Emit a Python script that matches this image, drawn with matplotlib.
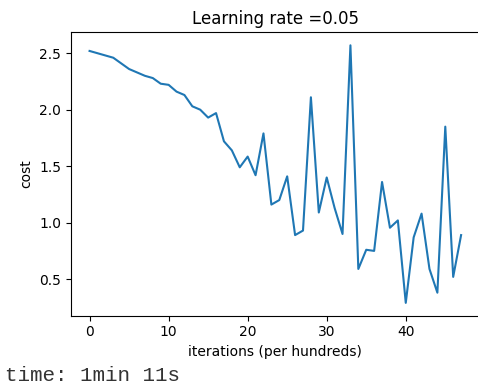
import matplotlib
matplotlib.use('Agg')
import matplotlib.pyplot as plt

# cost recorded every hundred iterations
iterations = list(range(48))
costs = [2.52, 2.50, 2.48, 2.46, 2.41, 2.36, 2.33, 2.30, 2.28, 2.23,
         2.22, 2.16, 2.13, 2.03, 2.00, 1.93, 1.97, 1.72, 1.64, 1.49,
         1.585, 1.42, 1.79, 1.16, 1.20, 1.41, 0.89, 0.93, 2.11, 1.09,
         1.40, 1.13, 0.90, 2.57, 0.59, 0.76, 0.75, 1.36, 0.955, 1.02,
         0.29, 0.87, 1.08, 0.59, 0.38, 1.85, 0.52, 0.89]

title = "Learning rate =0.05"
timing = "time: 1min 11s"

fig = plt.figure(figsize=(4.78, 3.86), dpi=100)
ax = fig.add_axes([0.1485, 0.182, 0.855, 0.734])

ax.plot(iterations, costs, color='#1f77b4', linewidth=1.5)
ax.set_ylabel('cost')
ax.set_xlabel('iterations (per hundreds)')
ax.set_title(title)

fig.text(0.01, 0.027, timing, family='Liberation Mono', fontsize=15,
         color='#333333', va='center', ha='left')

fig.savefig('out.png', dpi=100)
